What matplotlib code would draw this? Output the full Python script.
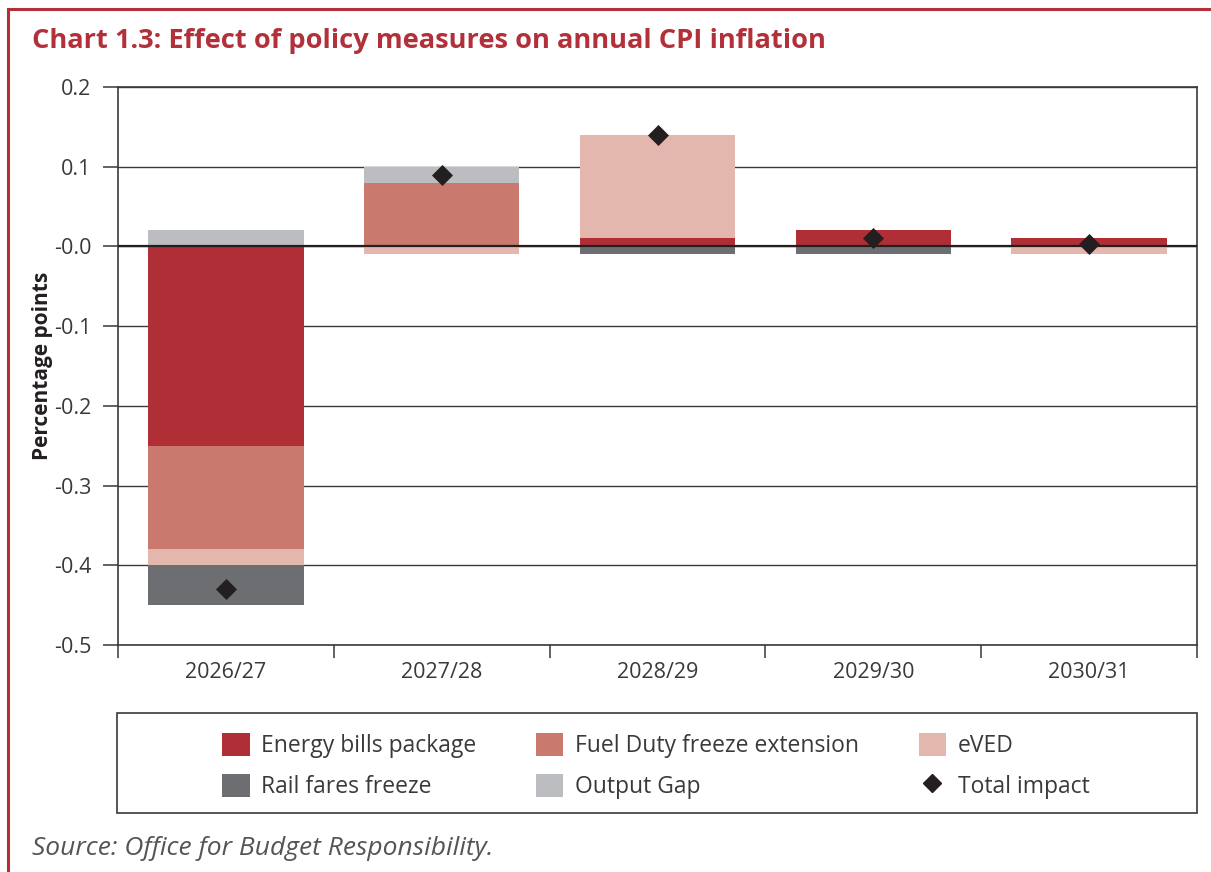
import matplotlib
matplotlib.use("Agg")
import matplotlib.pyplot as plt
from matplotlib.patches import Rectangle, Patch
from matplotlib.lines import Line2D
import numpy as np

plt.rcParams['font.family'] = ['Open Sans', 'DejaVu Sans']

years = ["2026/27", "2027/28", "2028/29", "2029/30", "2030/31"]
energy_bills = [-0.25, 0.00, 0.01, 0.02, 0.01]
fuel_duty = [-0.13, 0.08, 0.00, 0.00, 0.00]
eved = [-0.02, -0.01, 0.13, 0.00, -0.01]
rail_fares = [-0.05, 0.00, -0.01, -0.01, 0.00]
output_gap = [0.02, 0.02, 0.00, 0.00, 0.00]
total_impact = [-0.43, 0.09, 0.14, 0.01, 0.003]

yticks = [0.2, 0.1, 0.0, -0.1, -0.2, -0.3, -0.4, -0.5]
ytick_labels = ["0.2", "0.1", "-0.0", "-0.1", "-0.2", "-0.3", "-0.4", "-0.5"]

series = [
    ("Energy bills package", energy_bills, "#B02E36"),
    ("Fuel Duty freeze extension", fuel_duty, "#C9796E"),
    ("eVED", eved, "#E3B7AD"),
    ("Rail fares freeze", rail_fares, "#6D6E71"),
    ("Output Gap", output_gap, "#BCBDC0"),
]

W, H = 1211, 872
fig = plt.figure(figsize=(W / 100, H / 100), dpi=100)
red = "#B2303A"
text_col = "#3A3A3A"

# page border (top and left)
fig.add_artist(Line2D([8 / W, 1], [1 - 9 / H, 1 - 9 / H], color=red, lw=2.2))
fig.add_artist(Line2D([8 / W, 8 / W], [0, 1 - 9 / H], color=red, lw=2.2))

fig.text(32 / W, 1 - 41 / H, "Chart 1.3: Effect of policy measures on annual CPI inflation",
         color=red, fontsize=19.6, fontweight="bold", va="center", ha="left")

ax = fig.add_axes([118 / W, 1 - 645 / H, (1197 - 118) / W, (645 - 87) / H])
x = np.arange(len(years))
pos_base = np.zeros(len(years))
neg_base = np.zeros(len(years))
for name, vals, col in series:
    v = np.array(vals)
    base = np.where(v >= 0, pos_base, neg_base)
    ax.bar(x, v, bottom=base, width=0.72, color=col, linewidth=0, zorder=3)
    pos_base += np.where(v > 0, v, 0)
    neg_base += np.where(v < 0, v, 0)

ax.scatter(x, total_impact, marker="D", s=115, color="#231F20", zorder=5, linewidths=0)

ax.set_xlim(-0.5, len(years) - 0.5)
ax.set_ylim(-0.5, 0.2)
ax.set_yticks(yticks)
ax.set_yticklabels(ytick_labels)
for yv in yticks:
    ax.axhline(yv, color="#3A3A3A", lw=1.0, zorder=1)
ax.axhline(0, color="#231F20", lw=1.6, zorder=4)

ax.set_xticks(x)
ax.set_xticklabels(years)
ax.set_xticks(np.arange(-0.5, len(years), 1.0), minor=True)
ax.tick_params(axis="x", which="major", length=0, pad=12, labelsize=15.5, labelcolor=text_col)
ax.tick_params(axis="x", which="minor", length=9.5, width=1.3, color="#555555", direction="out")
ax.tick_params(axis="y", length=11, width=1.3, color="#555555", pad=8, labelsize=15.5,
               labelcolor=text_col, direction="out")
for s in ax.spines.values():
    s.set_color("#3A3A3A")
    s.set_linewidth(1.2)
ax.set_ylabel("Percentage points", fontsize=15, fontweight="bold", color="#231F20", labelpad=1)

# legend
fig.add_artist(Rectangle((117 / W, 1 - 813 / H), (1197 - 117) / W, 100 / H,
                         transform=fig.transFigure, fill=False, edgecolor="#3A3A3A", lw=1.2))
handles = [Patch(facecolor=c, edgecolor="none", label=n) for n, _, c in series]
handles.append(Line2D([], [], marker="D", color="#231F20", linestyle="none", markersize=9,
                      label="Total impact"))
order = [0, 3, 1, 4, 2, 5]
fig.legend([handles[i] for i in order], [handles[i].get_label() for i in order],
           ncol=3, loc="center", bbox_to_anchor=(656 / W, 1 - 766 / H), frameon=False,
           fontsize=16.5, handlelength=1.18, handleheight=1.18, handletextpad=0.52,
           columnspacing=2.6, labelspacing=0.66, labelcolor=text_col)

fig.text(32 / W, 1 - 848 / H, "Source: Office for Budget Responsibility.", fontsize=19,
         style="italic", color="#555555", va="center", ha="left")

fig.savefig("out.png", dpi=100)
